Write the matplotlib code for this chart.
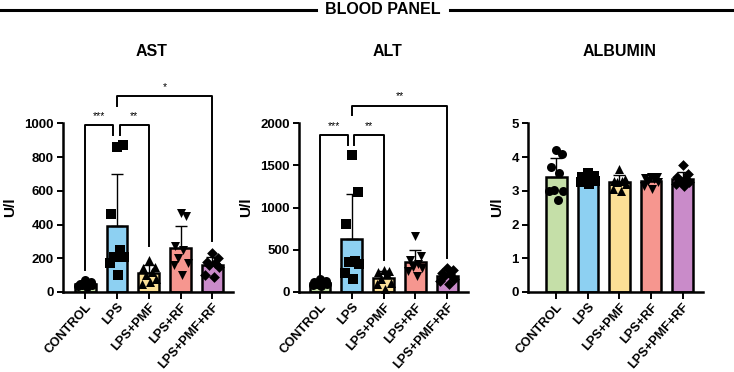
import numpy as np
import matplotlib
matplotlib.use("Agg")
import matplotlib.pyplot as plt

plt.rcParams["font.family"] = ["Liberation Sans", "DejaVu Sans"]
plt.rcParams["font.weight"] = "bold"

groups = ["CONTROL", "LPS", "LPS+PMF", "LPS+RF", "LPS+PMF+RF"]
colors = ["#c5dfa8", "#8dd0f2", "#fbdf96", "#f6968f", "#c98bc9"]
markers = ["o", "s", "^", "v", "D"]

# individual animals per group
ast = [
    [70, 60, 50, 45, 40, 40, 35, 30],
    [860, 870, 460, 250, 210, 210, 170, 100],
    [190, 150, 140, 120, 100, 80, 50, 60],
    [470, 450, 270, 250, 200, 170, 160, 100],
    [230, 200, 180, 170, 160, 150, 100, 90],
]
alt = [
    [150, 130, 120, 110, 100, 90, 80, 70],
    [1620, 1180, 810, 370, 350, 330, 230, 160],
    [260, 250, 240, 210, 150, 110, 100, 40],
    [660, 430, 380, 330, 300, 280, 250, 190],
    [280, 260, 230, 210, 190, 160, 130, 90],
]
albumin = [
    [4.22, 4.08, 3.70, 3.52, 3.02, 3.00, 3.00, 2.72],
    [3.52, 3.45, 3.42, 3.38, 3.35, 3.30, 3.25, 3.20],
    [3.65, 3.35, 3.30, 3.30, 3.25, 3.20, 3.05, 3.00],
    [3.42, 3.40, 3.38, 3.35, 3.30, 3.25, 3.15, 3.05],
    [3.75, 3.50, 3.40, 3.35, 3.30, 3.25, 3.20, 3.15],
]

# significance brackets: (group a, group b, height, leg end a, leg end b, label)
ast_sig = [
    (0, 1, 990, 130, 930, "***"),
    (1, 2, 990, 930, 270, "**"),
    (1, 4, 1160, 1100, 300, "*"),
]
alt_sig = [
    (0, 1, 1860, 170, 1740, "***"),
    (1, 2, 1860, 1740, 380, "**"),
    (1, 4, 2210, 2100, 400, "**"),
]

jitter = np.array([0.0, 0.18, -0.18, 0.09, -0.09, 0.22, -0.22, 0.04])

W, H = 734, 372
fig = plt.figure(figsize=(W / 100, H / 100), dpi=100)


def panel(x0, x1, title, data, ymax, yticks, sig, xlo):
    ax = fig.add_axes([x0 / W, 80 / H, (x1 - x0) / W, 168.7 / H])
    x = np.arange(len(groups))
    means = [np.mean(d) for d in data]
    sds = [np.std(d, ddof=1) for d in data]
    ax.bar(x, means, width=0.65, color=colors, edgecolor="black",
           linewidth=1.8, zorder=2)
    ax.errorbar(x, means, yerr=[np.zeros(len(x)), sds], fmt="none",
                ecolor="black", elinewidth=1.0, capsize=4, capthick=1.0,
                zorder=3)
    for i, d in enumerate(data):
        ax.scatter(x[i] + jitter[:len(d)], d, marker=markers[i],
                   s=42 if markers[i] != "D" else 30, color="black",
                   zorder=4, clip_on=False, linewidths=0)

    for a, b, h, ya, yb, lab in sig:
        xa = x[a] + (0.08 if a == 1 and b == 2 else 0)
        xb = x[b] - (0.12 if b == 1 else 0)
        ax.plot([xa, xa, xb, xb], [ya, h, h, yb], color="black",
                lw=1.4, clip_on=False, zorder=5)
        ax.text((xa + xb) / 2, h + ymax * 0.025, lab, ha="center",
                va="bottom", fontsize=7.5, fontweight="normal", clip_on=False)

    ax.set_xlim(xlo, 4.65)
    ax.set_ylim(0, ymax)
    ax.set_yticks(yticks)
    ax.set_yticklabels([str(t) for t in yticks], fontsize=9.5,
                       fontweight="bold")
    ax.set_xticks(x)
    ax.set_xticklabels(groups, rotation=48, ha="right",
                       rotation_mode="anchor", fontsize=9.2,
                       fontweight="bold")
    ax.tick_params(axis="y", width=1.4, length=4.5, pad=2)
    ax.tick_params(axis="x", width=1.4, length=5, pad=1.5)
    for s in ["top", "right"]:
        ax.spines[s].set_visible(False)
    for s in ["left", "bottom"]:
        ax.spines[s].set_linewidth(1.8)
    ax.set_ylabel("U/l", fontsize=11, fontweight="bold", labelpad=5)
    fig.text((x0 + x1) / 2 / W + 0.005, 1 - 52 / H, title, ha="center",
             va="center", fontsize=11.5, fontweight="bold")
    return ax


panel(63, 233, "AST", ast, 1000, [0, 200, 400, 600, 800, 1000], ast_sig, -0.7)
panel(299, 468, "ALT", alt, 2000, [0, 500, 1000, 1500, 2000], alt_sig, -0.66)
panel(528, 703, "ALBUMIN", albumin, 5, [0, 1, 2, 3, 4, 5], [], -0.9)

# header line with centred title
fig.add_artist(plt.Line2D([0, 316 / W], [1 - 10 / H] * 2, color="black", lw=2.2))
fig.add_artist(plt.Line2D([450 / W, 1], [1 - 10 / H] * 2, color="black", lw=2.2))
fig.text(383 / W, 1 - 10 / H, "BLOOD PANEL", ha="center", va="center",
         fontsize=11.5, fontweight="bold")

fig.savefig("out.png", dpi=100)
